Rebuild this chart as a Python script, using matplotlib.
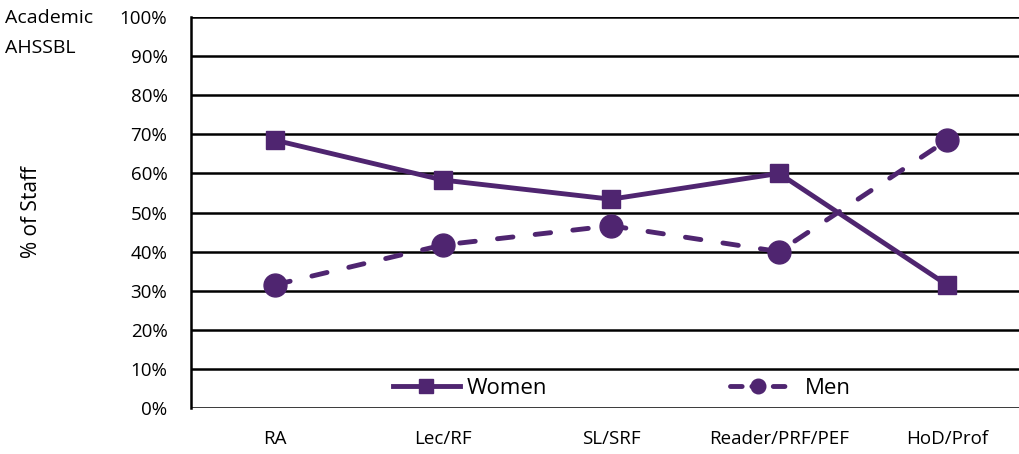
import matplotlib.pyplot as plt
from matplotlib.lines import Line2D
from matplotlib.ticker import PercentFormatter

categories = ["RA", "Lec/RF", "SL/SRF", "Reader/PRF/PEF", "HoD/Prof"]
women = [68.5, 58.3, 53.4, 60.0, 31.5]
men = [31.5, 41.7, 46.6, 40.0, 68.5]

purple = "#4F2570"
font = "Open Sans"
dash = (0, (3.2, 4.6))

fig = plt.figure(figsize=(10.2, 4.54), dpi=100)
ax = fig.add_axes([191 / 1020, 46 / 454, 840 / 1020, 391 / 454])

x = range(len(categories))
ax.plot(x, women, color=purple, lw=3.5, marker="s", ms=13.5, zorder=3)
ax.plot(x, men, color=purple, lw=3.5, ls=dash, dash_capstyle="round",
        marker="o", ms=16.5, zorder=3)

ax.set_xlim(-0.5, 4.5)
ax.set_ylim(0, 100)
ax.set_yticks(range(0, 101, 10))
ax.yaxis.set_major_formatter(PercentFormatter(decimals=0))
ax.set_xticks(list(x))
ax.set_xticklabels(categories)
ax.grid(axis="y", color="black", lw=1.8)
ax.set_axisbelow(True)
for s in ("top", "right", "bottom"):
    ax.spines[s].set_visible(False)
ax.spines["left"].set_linewidth(1.8)
ax.tick_params(axis="y", length=0, labelsize=13.5, pad=17)
ax.tick_params(axis="x", length=0, labelsize=13.5, pad=16)
for lab in ax.get_xticklabels() + ax.get_yticklabels():
    lab.set_family(font)

ax.set_ylabel("% of Staff", fontsize=15, family=font)
ax.yaxis.set_label_coords(-0.177, 0.5)

fig.text(5 / 1020, 1 - 18 / 454, "Academic", fontsize=14, family=font, va="center")
fig.text(5 / 1020, 1 - 48 / 454, "AHSSBL", fontsize=14, family=font, va="center")

women_handle = Line2D([], [], color=purple, lw=3.5, marker="s", ms=10.5)
men_handle = Line2D([], [], color=purple, lw=3.5, ls=(0, (2.4, 2.0)),
                    dash_capstyle="round", marker="o", ms=10.5)

leg_w = ax.legend([women_handle], ["Women"], loc="center left",
                  bbox_to_anchor=((393 - 191) / 840, 0.05), frameon=False,
                  borderpad=0, borderaxespad=0, handlelength=3.0,
                  handletextpad=0.3, prop={"family": font, "size": 16})
ax.add_artist(leg_w)
ax.legend([men_handle], ["Men"], loc="center left",
          bbox_to_anchor=((730 - 191) / 840, 0.05), frameon=False,
          borderpad=0, borderaxespad=0, handlelength=2.5,
          handletextpad=0.85, prop={"family": font, "size": 16})

fig.savefig("out.png", dpi=100)
